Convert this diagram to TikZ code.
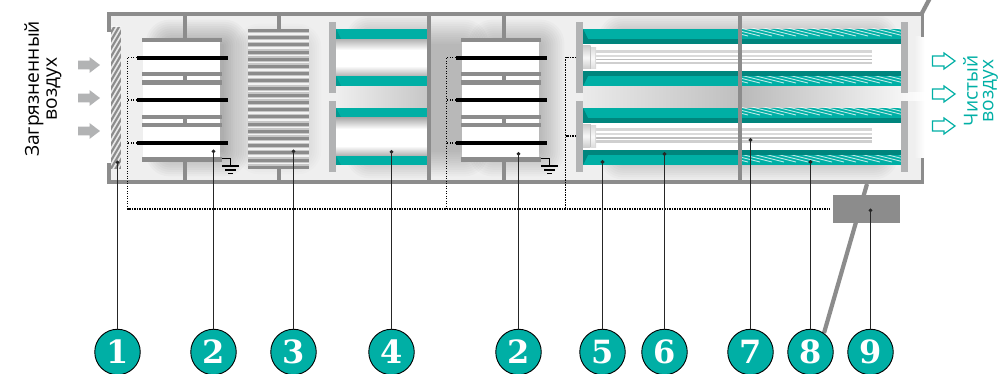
\documentclass[tikz,border=0pt]{standalone}
\usepackage{fontspec}
\usetikzlibrary{arrows.meta}
\setmainfont{Open Sans}
\newfontfamily\digitfont{DejaVu Serif}
\definecolor{tl}{HTML}{00AFA5}
\definecolor{tld}{HTML}{00857D}
\definecolor{tlm}{HTML}{009A91}
\definecolor{wl}{HTML}{8C8C8C}
\definecolor{bar}{HTML}{B2B3B4}
\definecolor{bg}{HTML}{EFEFEF}
\tikzset{
  wall/.style={fill=wl,draw=none},
  plate/.style={fill=wl,draw=none},
  numc/.style={circle,draw=black,line width=0.9pt,fill=tl,text=white,minimum size=45.5pt,inner sep=0pt,font=\digitfont\bfseries\fontsize{32}{32}\selectfont},
  leader/.style={draw=black!85,line width=1.1pt,-{Circle[length=3.6pt,width=3.6pt]},shorten >=-1.5pt},
  wire/.style={draw=black,line width=1.1pt,dash pattern=on 1.2pt off 1.3pt},
  gnd/.style={draw=black,line width=1pt},
  inarrow/.style={fill=bar,draw=none},
  outarrow/.style={draw=tl,line width=1.2pt,fill=white,line join=miter},
  side/.style={font=\fontsize{19.2}{21}\selectfont,rotate=90,inner sep=0pt},
  sidet/.style={side,text=tl},
}
% soft glow made of nested translucent rectangles
\newcommand{\softglow}[5]{%
  \foreach \i in {1,...,12}{\fill[black,opacity=#5,rounded corners=\i*2pt] ({#1-\i*2.2},{#2-\i*2.2}) rectangle ({#3+\i*2.2},{#4+\i*2.2});}}
% electrostatic block
\newcommand{\espblock}[1]{%
  \begin{scope}[shift={(#1,0)}]
    \fill[white] (0.5,42) rectangle (78,157);
    \fill[plate] (41,15) rectangle (45,38);
    \fill[plate] (0,38) rectangle (80,42);
    \fill[plate] (0,72) rectangle (80,76);
    \fill[plate] (41,76) rectangle (45,80);
    \fill[plate] (0,80) rectangle (80,84.7);
    \fill[plate] (0,115) rectangle (80,119);
    \fill[plate] (41,119) rectangle (45,123);
    \fill[plate] (0,123) rectangle (80,127);
    \fill[plate] (0,157) rectangle (80,162);
    \fill[plate] (41,162) rectangle (45,180);
    \fill[black] (-5.3,56) rectangle (86,60);
    \fill[black] (-5.3,98) rectangle (86,102);
    \fill[black] (-5.3,141) rectangle (86,145);
    \draw[gnd] (80,159) -- (88.7,159) -- (88.7,166);
    \draw[gnd,line width=1.3pt] (80,166) -- (97,166);
    \draw[gnd,line width=1.3pt] (83,170) -- (94,170);
    \draw[gnd,line width=1.3pt] (86,173.5) -- (91,173.5);
  \end{scope}}
\newcommand{\tealbar}[4]{\fill[tl] (#1,#3) rectangle (#2,#4);}
\newcommand{\hatchbar}[2]{%
  \begin{scope}
    \clip (742,#1) rectangle (901,#2);
    \fill[tl] (742,#1) rectangle (901,#2);
    \foreach \k in {-6,...,17}{\draw[white,opacity=.72,line width=.95pt] (700+\k*12,#1-8) -- (760+\k*12,#1+7);}
  \end{scope}}
% tube bundle with head
\newcommand{\tube}[1]{%
  \begin{scope}[shift={(0,#1)}]
    \foreach \yy/\hh/\cc in {50/2.6/D6D6D6,54.7/2.2/DADADA,58.8/1.6/BDBDBD,62/2.4/CFCFCF}{
      \definecolor{tc}{HTML}{\cc}
      \fill[tc] (596,\yy) rectangle (872,\yy+\hh);}
    \shade[top color=black!20,bottom color=black!20,middle color=black!3] (583,46) rectangle (590.5,69);
    \shade[top color=black!14,bottom color=black!14,middle color=black!2] (590.5,47.5) rectangle (596,69);
    \fill[black!24] (589.6,46) rectangle (590.6,69);
    \fill[black!14] (595,47.5) rectangle (596,69);
  \end{scope}}
\begin{document}
\begin{tikzpicture}[x=1pt,y=-1pt]
\useasboundingbox (0,0) rectangle (999,374);
% ---------- interior background
\fill[bg] (111,15) rectangle (922,180);
\begin{scope}
  \clip (111,15) rectangle (427,180);
  \softglow{172}{46}{222}{150}{.022}
  \softglow{262}{50}{295}{148}{.012}
  \softglow{372}{42}{445}{152}{.02}
\end{scope}
\begin{scope}
  \clip (431,15) rectangle (738,180);
  \softglow{405}{46}{462}{150}{.019}
  \softglow{495}{46}{538}{150}{.02}
  \softglow{625}{41}{800}{153}{.021}
\end{scope}
\begin{scope}
  \clip (742,15) rectangle (922,180);
  \softglow{700}{41}{872}{153}{.021}
\end{scope}
\shade[left color=bg,right color=black!22] (336,86) rectangle (427,108);
\shade[left color=black!8,right color=black!25] (583,86) rectangle (738,108);
\shade[left color=black!27,right color=black!4] (742,86) rectangle (901,108);
\shade[left color=bg,right color=white] (914,37) rectangle (925,158);
\shade[left color=black!4,right color=white] (901,93) rectangle (925,101);
% ---------- filter 1
\begin{scope}
  \clip (111,27) rectangle (121,169);
  \fill[black!45] (111,27) rectangle (121,169);
  \foreach \k in {0,...,20}{\draw[white,opacity=.8,line width=1.6pt] (109,24+\k*8) -- (123,\k*8);}
\end{scope}
% ---------- blocks 2
\espblock{142}
\espblock{461}
% ---------- louvre 3
\fill[black!22] (248,29) rectangle (309,168);
\foreach \k in {0,...,18}{
  \fill[white,opacity=.8] (248,{33+7.2*\k}) rectangle (309,{34.6+7.2*\k});}
\foreach \k in {0,...,19}{
  \fill[wl] (248,{29+7.2*\k}) rectangle (309,{32+7.2*\k});}
\fill[wl] (277,15) rectangle (281,29);
\fill[wl] (277,168) rectangle (281,180);
% ---------- section 4
\shade[top color=black!30,bottom color=white] (336,39) rectangle (427,50);
\fill[white] (336,50) rectangle (427,66);
\shade[top color=white,bottom color=black!30] (336,66) rectangle (427,76);
\shade[top color=black!35,bottom color=white] (336,117) rectangle (427,129);
\fill[white] (336,129) rectangle (427,146);
\shade[top color=white,bottom color=black!32] (336,146) rectangle (427,156);
\foreach \a/\b in {29/39,76/86,108/117,156/165}{\tealbar{336}{427}{\a}{\b}}
\fill[tlm] (336,29) -- (341,39) -- (336,39) -- cycle;
\fill[tlm] (336,76) -- (341,86) -- (336,86) -- cycle;
\fill[tlm] (336,108) -- (341,117) -- (336,117) -- cycle;
\fill[tlm] (336,156) -- (341,165) -- (336,165) -- cycle;
% ---------- sections 5 to 8: white channels, tubes
\fill[white] (583,44) rectangle (901,71);
\fill[white] (583,123) rectangle (901,150);
\tube{0}
\tube{78.5}
\foreach \a/\b in {29/39,76/86,108/118,155/165}{\tealbar{583}{738}{\a}{\b}}
\foreach \a/\b in {29/39,76/86,108/118,155/165}{\hatchbar{\a}{\b}}
\foreach \a/\b in {39/44,71/76,118/123,150/155}{\fill[tld] (583,\a) rectangle (901,\b);}
\fill[tld] (583,29) -- (588,39) -- (583,39) -- cycle;
\fill[tld] (583,76) -- (588,76) -- (583,86) -- cycle;
\fill[tld] (583,108) -- (588,118) -- (583,118) -- cycle;
\fill[tld] (583,155) -- (588,155) -- (583,165) -- cycle;
% ---------- grey end plates
\foreach \xa in {329,576,901}{
  \fill[bar] (\xa,22) rectangle (\xa+7,93);
  \fill[bar] (\xa,101) rectangle (\xa+7,172);}
% ---------- frame
\fill[wall] (107,12) rectangle (924,15.7);
\fill[wall] (107,180) rectangle (924,184);
\fill[wall] (107,12) rectangle (111,32);
\fill[wall] (107,163) rectangle (111,184);
\fill[wall] (921,12) rectangle (924.3,37);
\fill[wall] (921,158) rectangle (924.3,184);
\fill[wall] (427,12) rectangle (431,184);
\fill[wall] (738,12) rectangle (742,184);
% ---------- support pipe
\draw[wl,line width=4.2pt] (921.5,14) -- (930,-2);
\draw[wl,line width=4.2pt] (867,184) -- (824,333);
% ---------- controller and number nodes
\node[fill=wl,minimum width=67pt,minimum height=27.7pt,inner sep=0pt] (box9) at (866.5,208.9) {};
\node[numc] (n1) at (117.5,352) {1};
\node[numc] (n2) at (213.5,352) {2};
\node[numc] (n3) at (293.5,352) {3};
\node[numc] (n4) at (391.5,352) {4};
\node[numc] (n2b) at (518.5,352) {2};
\node[numc] (n5) at (602.5,352) {5};
\node[numc] (n6) at (664.5,352) {6};
\node[numc] (n7) at (750.5,352) {7};
\node[numc] (n8) at (810.5,352) {8};
\node[numc] (n9) at (870.5,352) {9};
% ---------- wiring
\coordinate (w0) at (127.5,209);
\coordinate (wa) at (446.5,209);
\coordinate (wb) at (565.5,209);
\coordinate (wend) at (830,209);
\draw[wire] (136.7,57.5) -- (127.5,57.5) -- (w0) -- (wend);
\draw[wire] (136.7,100) -- (127.5,100);
\draw[wire] (136.7,143) -- (127.5,143);
\draw[wire] (455.7,57.5) -- (446.5,57.5) -- (wa);
\draw[wire] (455.7,100) -- (446.5,100);
\draw[wire] (455.7,143) -- (446.5,143);
\draw[wire] (576,57.5) -- (565.5,57.5) -- (wb);
\draw[wire] (576,136) -- (565.5,136);
% ---------- leaders
\coordinate (e1) at (117.5,162);
\coordinate (e2) at (213.5,151);
\coordinate (e3) at (293.5,151);
\coordinate (e4) at (391.5,151.5);
\coordinate (e2b) at (518.5,153.5);
\coordinate (e5) at (602.5,161.7);
\coordinate (e6) at (664.5,153.7);
\coordinate (e7) at (750.5,139.7);
\coordinate (e8) at (810.5,161.7);
\coordinate (e9) at (870.5,210);
\foreach \p in {1,2,3,4,2b,5,6,7,8,9}{\draw[leader] (n\p) -- (e\p);}
% ---------- air arrows
\foreach \yy in {65,98,131}{
  \fill[inarrow] (78,\yy-4.3) -- (89.5,\yy-4.3) -- (89.5,\yy-8) -- (100,\yy) -- (89.5,\yy+8) -- (89.5,\yy+4.3) -- (78,\yy+4.3) -- cycle;}
\foreach \yy in {61,94,126}{
  \draw[outarrow] (932.5,\yy-5) -- (944,\yy-5) -- (944,\yy-8) -- (955,\yy) -- (944,\yy+8) -- (944,\yy+5) -- (932.5,\yy+5) -- cycle;}
% ---------- captions
\node[side] (t1) at (34,89) {Загрязненный};
\node[side] (t2) at (54,89) {воздух};
\node[sidet] (t3) at (970.5,91) {Чистый};
\node[sidet] (t4) at (990.5,91) {воздух};
\end{tikzpicture}
\end{document}
